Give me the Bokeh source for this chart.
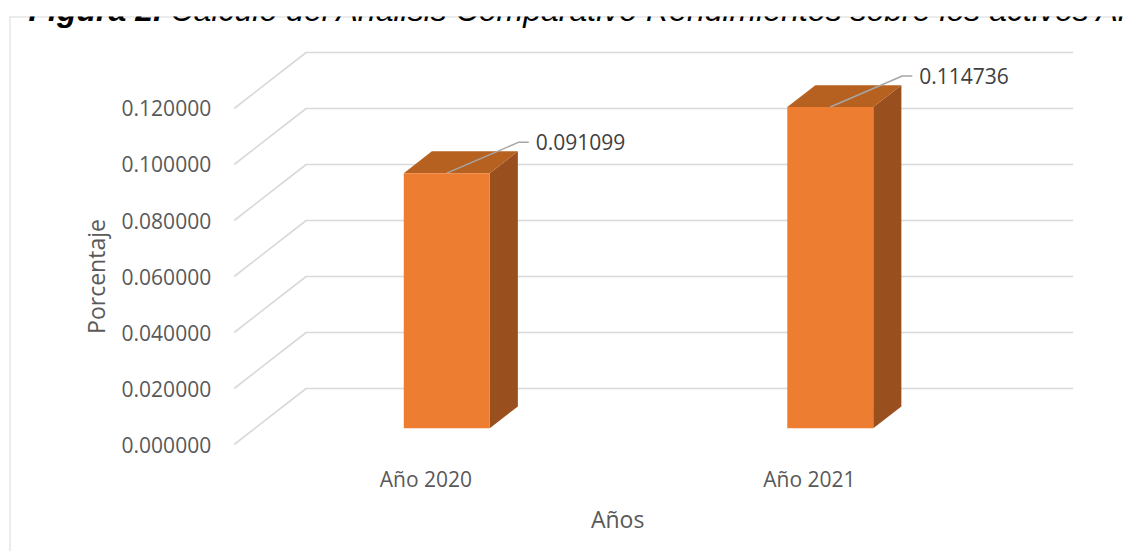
import numpy as np
from bokeh.plotting import figure
from bokeh.models import Range1d, Span, Label
from bokeh.embed import file_html
from bokeh.resources import INLINE
from bokeh.core.properties import value

# ---------------- data ----------------
categories = ["Año 2020", "Año 2021"]
values = [0.091099, 0.114736]
value_labels = ["0.091099", "0.114736"]
y_ticks = [0.00, 0.02, 0.04, 0.06, 0.08, 0.10, 0.12]
y_tick_labels = ["0.000000", "0.020000", "0.040000", "0.060000",
                 "0.080000", "0.100000", "0.120000"]
y_title = "Porcentaje"
x_title = "Años"
title_bold = "Figura 2."
title_rest = "Cálculo del Análisis Comparativo Rendimientos sobre los activos Año 2020 - 2021"

# ---------------- layout ----------------
W, H = 1123, 551
BORDER_L, BORDER_T = 9, 16
FW, FH = W - BORDER_L, H - BORDER_T
X0, X1 = -0.08579, 2.81904
Y0, Y1 = -0.038214, 0.152857
PX = (X1 - X0) / FW          # data units per pixel (x)
PY = (Y1 - Y0) / FH          # data units per pixel (y)

DX, DY = 72 * PX, 56 * PY    # full depth of the 3D box
AX_MIN, AX_MAX = 0.5, 2.5    # category axis extent
BW = 86 * PX                 # bar width
F_FRONT, F_BACK = 0.29, 0.68 # bar depth position

FONT = value("Open Sans")
GREY = "#595959"

p = figure(width=W, height=H, x_range=Range1d(X0, X1), y_range=Range1d(Y0, Y1),
           output_backend="svg", toolbar_location=None,
           x_axis_location=None, y_axis_location=None,
           min_border_left=BORDER_L, min_border_top=BORDER_T,
           min_border_right=0, min_border_bottom=0)
p.grid.visible = False
p.outline_line_color = None
p.background_fill_color = "white"
p.border_fill_color = "white"

# chart area border (left and top visible)
p.add_layout(Span(location=X0, dimension="height", line_color="#d9d9d9", line_width=2))
p.add_layout(Span(location=Y1, dimension="width", line_color="#d9d9d9", line_width=2))

# gridlines: side wall diagonal + back wall horizontal
gx, gy = [], []
for t in y_ticks:
    gx.append([AX_MIN, AX_MIN + DX, AX_MAX + DX])
    gy.append([t, t + DY, t + DY])
p.multi_line(gx, gy, line_color="#d9d9d9", line_width=1.6)

# y tick labels
p.text(x=[AX_MIN] * len(y_ticks), y=y_ticks, text=y_tick_labels,
       text_font=FONT, text_font_size="21px", text_color=GREY,
       text_align="right", text_baseline="middle", x_offset=-23)

# bars (3D)
fx, fy, tx, ty, sx, sy = [], [], [], [], [], []
for i, v in enumerate(values):
    c = i + 1
    L, R = c - BW / 2, c + BW / 2
    a, b = F_FRONT, F_BACK
    fx.append([L + a*DX, R + a*DX, R + a*DX, L + a*DX])
    fy.append([a*DY, a*DY, v + a*DY, v + a*DY])
    tx.append([L + a*DX, R + a*DX, R + b*DX, L + b*DX])
    ty.append([v + a*DY, v + a*DY, v + b*DY, v + b*DY])
    sx.append([R + a*DX, R + b*DX, R + b*DX, R + a*DX])
    sy.append([a*DY, b*DY, v + b*DY, v + a*DY])
p.patches(sx, sy, fill_color="#9A4F1E", line_color=None)
p.patches(tx, ty, fill_color="#B6611F", line_color=None)
p.patches(fx, fy, fill_color="#ED7D31", line_color=None)

# data labels with leader lines
lx, ly, labx, laby = [], [], [], []
for i, v in enumerate(values):
    c = i + 1
    x0, y0 = c + F_FRONT * DX, v + F_FRONT * DY
    xm, ym = x0 + 72 * PX, y0 + 31 * PY
    xe = xm + 10 * PX
    lx.append([x0, xm, xe]); ly.append([y0, ym, ym])
    labx.append(xe); laby.append(ym)
p.multi_line(lx, ly, line_color="#a6a6a6", line_width=1.5)
p.text(x=labx, y=laby, text=value_labels, text_font=FONT, text_font_size="21px",
       text_color="#404040", text_align="left", text_baseline="middle", x_offset=7)

# category labels
p.text(x=[1, 2], y=[0, 0], text=categories, text_font=FONT, text_font_size="21px",
       text_color=GREY, text_align="center", text_baseline="middle", y_offset=34)

# axis titles
p.text(x=[(AX_MIN + AX_MAX) / 2], y=[0], text=[x_title], text_font=FONT,
       text_font_size="23px", text_color=GREY, text_align="center",
       text_baseline="middle", y_offset=74)
p.text(x=[AX_MIN], y=[(y_ticks[0] + y_ticks[-1]) / 2], text=[y_title], text_font=FONT,
       text_font_size="23px", text_color=GREY, text_align="center",
       text_baseline="middle", angle=np.pi / 2, x_offset=-138)

# cropped document caption at the very top (cut off in the reference too)
p.add_layout(Label(x=X0, y=Y1 + 7 * PY, text=title_bold, text_font="Liberation Sans",
                   text_font_style="bold italic", text_font_size="32px",
                   text_color="black", text_baseline="alphabetic", x_offset=19))
p.add_layout(Label(x=X0, y=Y1 + 7 * PY, text=title_rest, text_font="Liberation Sans",
                   text_font_style="italic", text_font_size="32px",
                   text_color="black", text_baseline="alphabetic", x_offset=161))

open("out.html", "w").write(file_html(p, INLINE))
